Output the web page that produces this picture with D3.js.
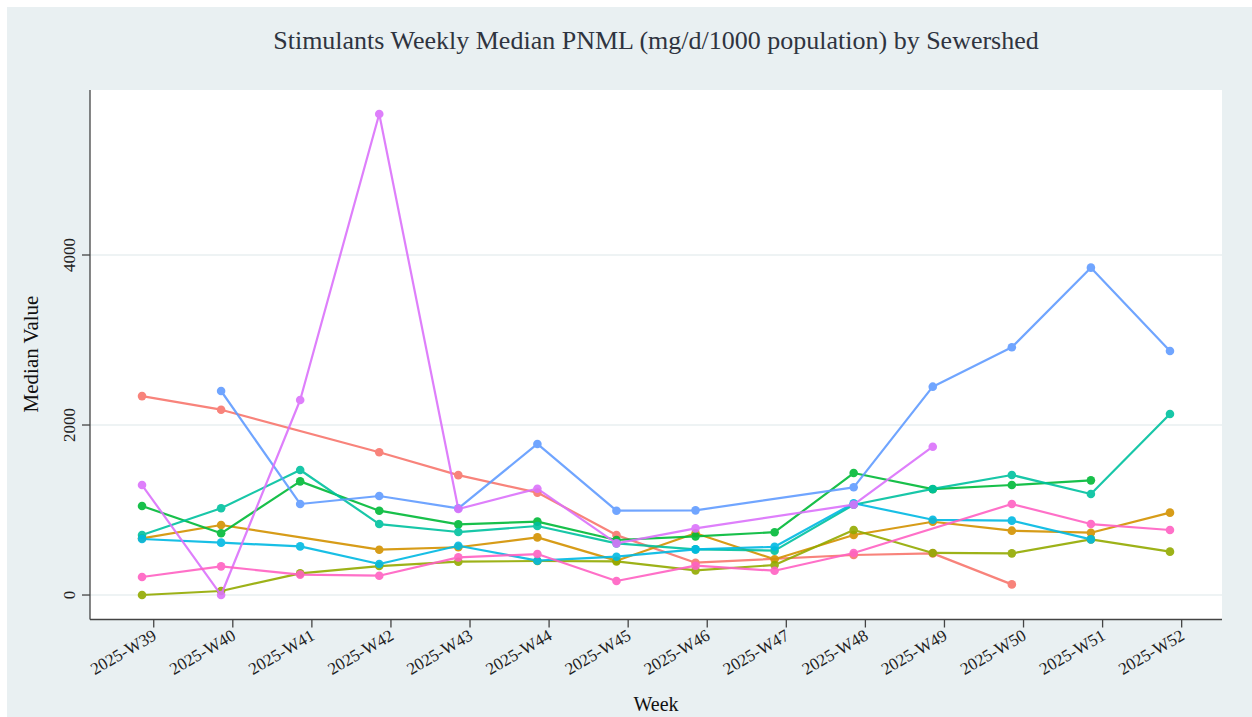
<!DOCTYPE html>
<html>
<head>
<meta charset="utf-8">
<script src="https://cdn.jsdelivr.net/npm/d3@7"></script>
<style>
  body { margin: 0; background: #fff; }
  svg { display: block; }
  text { font-family: "Liberation Serif", "Times New Roman", serif; }
</style>
</head>
<body>
<svg id="chart" width="1252" height="717"></svg>
<script>
// weeks on the x axis
var weeks = ["2025-W39","2025-W40","2025-W41","2025-W42","2025-W43","2025-W44","2025-W45",
  "2025-W46","2025-W47","2025-W48","2025-W49","2025-W50","2025-W51","2025-W52"];

// one array per sewershed, null where there is no value that week
var shedA = [2340, 2180, null, 1680, 1410, 1205, 705, 380, null, 471, 490, 125, null, null];
var shedB = [667, 824, null, 533, 562, 678, 404, 726, 420, 706, 862, 757, 733, 969];
var shedC = [0, 47, 255, 341, 392, 400, 396, 290, 353, 765, 495, 490, 655, 510];
var shedD = [1047, 726, 1337, 992, 831, 863, 647, 690, 739, 1435, 1245, 1294, 1349, null];
var shedE = [706, 1020, 1471, 835, 741, 812, 608, 537, 522, 1062, 1248, 1412, 1188, 2130];
var shedF = [659, 616, 572, 365, 580, 404, 451, 537, 567, 1080, 885, 875, 655, null];
var shedG = [null, 2400, 1071, 1165, 1020, 1777, 992, 996, null, 1267, 2451, 2914, 3851, 2871];
var shedH = [1294, 0, 2294, 5659, 1012, 1251, 608, 784, null, 1063, 1745, null, null, null];
var shedI = [212, 337, 240, 227, 443, 482, 165, 345, 286, 494, null, 1071, 835, 765];

var sheds = [shedA, shedB, shedC, shedD, shedE, shedF, shedG, shedH, shedI];
var colors = ["#F8766D","#D39200","#93AA00","#00BA38","#00C19F","#00B9E3","#619CFF","#DB72FB","#FF61C3"];
var yTicks = [0, 2000, 4000];

var svg = d3.select("#chart");
var pLeft = 90, pRight = 1222, pTop = 90, pBottom = 619.5;

// outer background and panel
svg.append("rect").attr("x",7).attr("y",7).attr("width",1245).attr("height",710).attr("fill","#e9f0f2");
svg.append("rect").attr("x",pLeft).attr("y",pTop).attr("width",pRight-pLeft).attr("height",pBottom-pTop).attr("fill","#fff");

var x = d3.scalePoint().domain(weeks).range([pLeft, pRight]).padding(0.658);
var y = d3.scaleLinear().domain([-288, 5941]).range([pBottom, pTop]);
var tickShift = x.step()*0.148;

// grid
svg.append("g").selectAll("line")
  .data(yTicks)
  .enter()
  .append("line")
  .attr("x1",pLeft).attr("x2",pRight)
  .attr("y1",function(d){return y(d)}).attr("y2",function(d){return y(d)})
  .attr("stroke","#eef3f4").attr("stroke-width",2);

// lines + markers
sheds.forEach(function(s,k){
  var pts = s.map(function(v,i){return {w:weeks[i],v:v}}).filter(function(p){return p.v!=null});
  var g = svg.append("g").attr("opacity",0.9);
  g.append("path")
    .datum(pts)
    .attr("fill","none")
    .attr("stroke",colors[k])
    .attr("stroke-width",2.2)
    .attr("stroke-linejoin","round")
    .attr("d",d3.line().x(function(p){return x(p.w)}).y(function(p){return y(p.v)}));
  g.selectAll("circle")
    .data(pts)
    .enter()
    .append("circle")
    .attr("cx",function(p){return x(p.w)})
    .attr("cy",function(p){return y(p.v)})
    .attr("r",4.3)
    .attr("fill",colors[k]);
});

// axes
svg.append("line").attr("x1",pLeft).attr("x2",pRight).attr("y1",pBottom).attr("y2",pBottom)
  .attr("stroke","#444").attr("stroke-width",1.3);
svg.append("line").attr("x1",pLeft).attr("x2",pLeft).attr("y1",pTop).attr("y2",pBottom)
  .attr("stroke","#444").attr("stroke-width",1.3);

var xt = svg.append("g").selectAll("g")
  .data(weeks)
  .enter()
  .append("g")
  .attr("transform",function(d){return "translate("+(x(d)+tickShift)+","+pBottom+")"});
xt.append("line").attr("y1",0).attr("y2",8).attr("stroke","#444").attr("stroke-width",1.3);
xt.append("text")
  .attr("transform","translate(-2,9) rotate(-30)")
  .attr("text-anchor","end")
  .attr("dy","0.7em")
  .attr("font-size",17)
  .attr("fill","#222")
  .text(function(d){return d});

var yt = svg.append("g").selectAll("g")
  .data(yTicks)
  .enter()
  .append("g")
  .attr("transform",function(d){return "translate("+pLeft+","+y(d)+")"});
yt.append("line").attr("x1",0).attr("x2",-8).attr("stroke","#444").attr("stroke-width",1.3);
yt.append("text")
  .attr("transform","translate(-15,0) rotate(-90)")
  .attr("text-anchor","middle")
  .attr("font-size",17)
  .attr("fill","#222")
  .text(function(d){return d});

// titles
svg.append("text").attr("x",656).attr("y",49).attr("text-anchor","middle")
  .attr("font-size",26).attr("fill","#2f3440")
  .text("Stimulants Weekly Median PNML (mg/d/1000 population) by Sewershed");
svg.append("text").attr("x",656).attr("y",711).attr("text-anchor","middle")
  .attr("font-size",20).attr("fill","#111").text("Week");
svg.append("text").attr("transform","translate(38,354) rotate(-90)").attr("text-anchor","middle")
  .attr("font-size",21).attr("fill","#111").text("Median Value");
</script>
</body>
</html>
